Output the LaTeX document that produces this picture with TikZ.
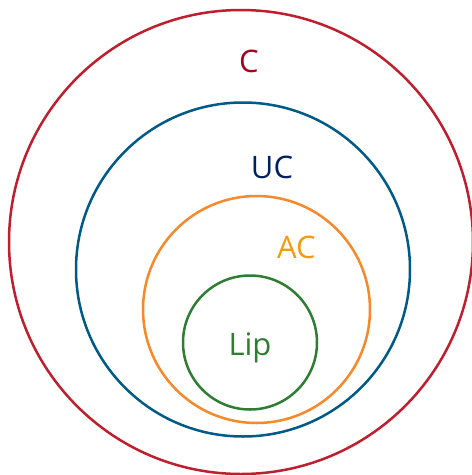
\documentclass[tikz,border=0pt]{standalone}
\usepackage{fontspec}
\setmainfont{Open Sans}
\definecolor{cred}{HTML}{BE1E2D}
\definecolor{credt}{HTML}{A50021}
\definecolor{cblue}{HTML}{005A87}
\definecolor{cbluet}{HTML}{002060}
\definecolor{corange}{HTML}{F7892A}
\definecolor{coranget}{HTML}{F59A12}
\definecolor{cgreen}{HTML}{2F7D32}
\begin{document}
\begin{tikzpicture}[x=1pt,y=-1pt,
  ring/.style={line width=2.5pt},
  lbl/.style={anchor=base,inner sep=0pt,font=\fontsize{31}{36}\selectfont}]
\useasboundingbox (0,0) rectangle (472,475);
\draw[ring,cred] (241,242) circle[radius=232];
\draw[ring,cblue] (243,269.5) circle[radius=167];
\draw[ring,corange] (256.5,309.5) circle[radius=113.5];
\draw[ring,cgreen] (250,342.5) circle[radius=67];
\node[lbl,text=credt] (c) at (249,72) {C};
\node[lbl,text=cbluet] (uc) at (272,178) {UC};
\node[lbl,text=coranget] (ac) at (296.5,258) {AC};
\node[lbl,text=cgreen] (lip) at (250,355) {Lip};
\end{tikzpicture}
\end{document}
